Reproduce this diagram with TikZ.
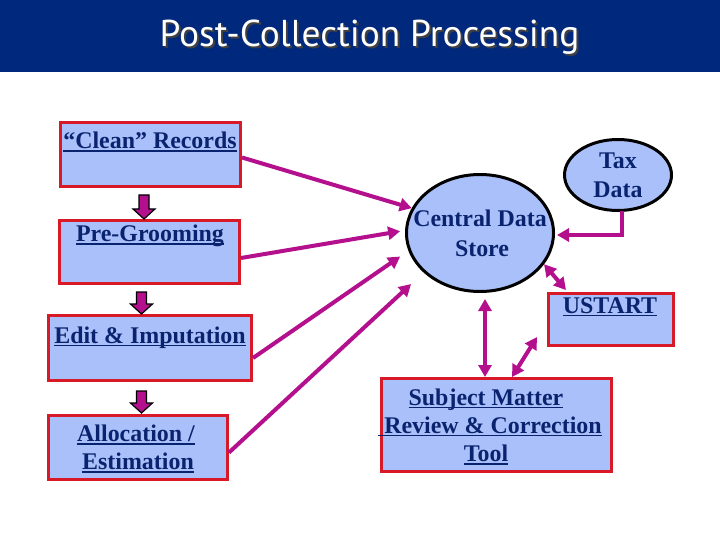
\documentclass[tikz,border=0pt]{standalone}
\usepackage{fontspec}
\setmainfont{Liberation Serif}
\newfontfamily\titlefont{PT Sans}
\usetikzlibrary{arrows.meta,shapes.geometric,calc}
\definecolor{barblue}{RGB}{0,40,125}
\definecolor{boxfill}{RGB}{170,192,250}
\definecolor{boxred}{RGB}{215,25,40}
\definecolor{navy}{RGB}{10,35,110}
\definecolor{mag}{RGB}{180,15,140}
\newcommand\ulx[1]{\setbox0=\hbox{#1}\rlap{\rule[-3.2bp]{\wd0}{1.7bp}}\box0}
\newcommand\shadowtext[1]{\makebox[0pt][l]{\hspace{2bp}\raisebox{-2bp}{\color{black!75}#1}}#1}
\newcommand\blkarrow[3]{\draw[blk] (#1-5,#2) -- (#1+5,#2) -- (#1+5,#3-10) -- (#1+11,#3-10) -- (#1,#3) -- (#1-11,#3-10) -- (#1-5,#3-10) -- cycle;}
\begin{document}
\begin{tikzpicture}[x=1bp,y=-1bp,
  box/.style={draw=boxred, line width=3bp, fill=boxfill, inner sep=0pt, rectangle},
  ell/.style={ellipse, draw=black, line width=3bp, fill=boxfill, inner sep=0pt},
  lbl/.style={text=navy, font=\fontsize{24}{28}\selectfont\bfseries, inner sep=0pt, anchor=base},
  conn/.style={draw=mag, line width=4bp, -{Triangle[length=12bp,width=13bp]}},
  dconn/.style={draw=mag, line width=4bp, {Triangle[length=12bp,width=13bp]}-{Triangle[length=12bp,width=13bp]}},
  blk/.style={fill=mag, draw=black, line width=1.2bp, line join=miter},
  ttl/.style={font=\titlefont\fontsize{37.5}{42}\selectfont, inner sep=0pt, text=white}]
\useasboundingbox (0,0) rectangle (720,540);
\fill[white] (0,0) rectangle (720,540);
\fill[barblue] (0,0) rectangle (720,72);
\node[ttl] (title) at (369.5,38) {\shadowtext{Post-Collection Processing}};

% boxes
\node[box, minimum width=180bp, minimum height=64bp] (clean) at (150.5,154.5) {};
\node[box, minimum width=180bp, minimum height=63bp] (pre) at (149.5,252) {};
\node[box, minimum width=203bp, minimum height=65bp] (edit) at (150,348) {};
\node[box, minimum width=179bp, minimum height=64bp] (alloc) at (138,447.5) {};
\node[box, minimum width=125bp, minimum height=52bp] (ustart) at (611,319.5) {};
\node[box, minimum width=230bp, minimum height=93bp] (smr) at (496.5,425) {};
\node[ell, minimum width=147bp, minimum height=117bp] (cds) at (480,233) {};
\node[ell, minimum width=107bp, minimum height=71bp] (tax) at (618,175) {};

% labels
\node[lbl] (cleanT) at (150,149) {\ulx{“Clean” Records}};
\node[lbl] (preT) at (150,242) {\ulx{Pre-Grooming}};
\node[lbl] (editT) at (150,343) {\ulx{Edit \& Imputation}};
\node[lbl] (allocT1) at (136,441.7) {\ulx{Allocation /}};
\node[lbl] (allocT2) at (138,469.5) {\ulx{Estimation}};
\node[lbl] (cdsT1) at (480,226.7) {Central Data};
\node[lbl] (cdsT2) at (482,256.5) {Store};
\node[lbl] (taxT1) at (618,169) {Tax};
\node[lbl] (taxT2) at (618,198) {Data};
\node[lbl] (ustartT) at (610,313) {\ulx{USTART}};
\node[lbl] (smrT1) at (486,405) {\ulx{Subject Matter}};
\node[lbl] (smrT2) at (490,433) {\ulx{\ Review \& Correction}};
\node[lbl] (smrT3) at (486,461.5) {\ulx{Tool}};

% block arrows between steps
\blkarrow{144}{195}{219}
\blkarrow{141.5}{292}{314}
\blkarrow{141.5}{391}{413}

% connectors
\draw[conn] ($(clean.east)+(0,3)$) -- (cds.160);
\draw[conn, shorten >=5bp] ($(pre.east)+(0,6)$) -- (cds.178);
\draw[conn, shorten >=10bp] ($(edit.east)+(0,10)$) -- (cds.194);
\draw[conn, shorten >=17bp] ($(alloc.east)+(0,5)$) -- (cds.215);
\draw[conn] ($(tax.south)+(4,-1)$) |- ($(cds.east)+(2,2)$);
\draw[dconn] ($(ustart.north west)+(19,-2)$) -- (cds.334);
\draw[dconn, shorten >=6bp] ($(smr.north)+(-11.5,0)$) -- ($(cds.south)+(5,0)$);
\draw[dconn] ($(smr.north)+(15.5,0)$) -- ($(ustart.south west)+(-10,-10)$);
\end{tikzpicture}
\end{document}
